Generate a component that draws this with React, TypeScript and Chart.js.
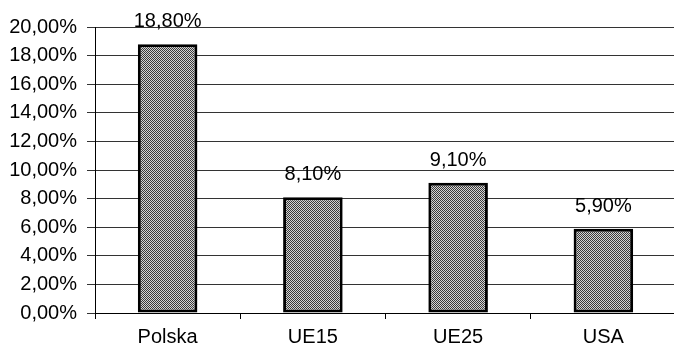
import React, { useEffect, useRef } from "react";
import { Chart, registerables } from "chart.js";

Chart.register(...registerables);

const categories = ["Polska", "UE15", "UE25", "USA"];
const values = [18.8, 8.1, 9.1, 5.9];
const yMin = 0;
const yMax = 20;
const yStep = 2;

const fmt = (v: number) => v.toFixed(2).replace(".", ",") + "%";

function makePattern(): CanvasPattern | string {
  const c = document.createElement("canvas");
  c.width = 2;
  c.height = 2;
  const ctx = c.getContext("2d");
  if (!ctx) return "#888";
  ctx.fillStyle = "#d4d4d4";
  ctx.fillRect(0, 0, 2, 2);
  ctx.fillStyle = "#3a3a3a";
  ctx.fillRect(0, 0, 1, 1);
  ctx.fillRect(1, 1, 1, 1);
  const p = ctx.createPattern(c, "repeat");
  return p || "#888";
}

const labelPlugin = {
  id: "valueLabels",
  afterDatasetsDraw(chart: any) {
    const ctx = chart.ctx;
    const meta = chart.getDatasetMeta(0);
    ctx.save();
    ctx.font = "20px 'Liberation Sans', Arial, sans-serif";
    ctx.fillStyle = "#000";
    ctx.textAlign = "center";
    ctx.textBaseline = "alphabetic";
    meta.data.forEach((el: any, i: number) => {
      ctx.fillText(fmt(values[i]), el.x, el.y - 17);
    });
    ctx.restore();
  },
};

export default function App() {
  const ref = useRef<HTMLCanvasElement>(null);
  useEffect(() => {
    if (!ref.current) return;
    const font = { family: "'Liberation Sans', Arial, sans-serif", size: 20 };
    const chart = new Chart(ref.current, {
      type: "bar",
      data: {
        labels: categories,
        datasets: [
          {
            data: values,
            backgroundColor: makePattern() as any,
            borderColor: "#000",
            borderWidth: 3,
            borderSkipped: false,
            categoryPercentage: 1,
            barPercentage: 0.41,
          },
        ],
      },
      options: {
        responsive: false,
        animation: false,
        layout: { padding: { top: 27, right: 0, left: 0, bottom: 0 } },
        plugins: {
          legend: { display: false },
          tooltip: { enabled: false },
        },
        scales: {
          x: {
            grid: {
              display: true,
              drawOnChartArea: false,
              drawTicks: true,
              tickLength: 6,
              color: "#000",
              offset: true,
            },
            border: { display: true, color: "#000", width: 1 },
            ticks: { color: "#000", font, padding: 6 },
            afterFit: (s: any) => {
              s.height = 32;
            },
          },
          y: {
            min: yMin,
            max: yMax,
            ticks: {
              stepSize: yStep,
              color: "#000",
              font,
              padding: 10,
              callback: (v: any) => fmt(Number(v)),
            },
            grid: {
              color: "#333",
              lineWidth: 1,
              tickLength: 8,
            },
            border: { display: true, color: "#000", width: 1 },
            afterFit: (s: any) => {
              s.width = 95;
            },
          },
        },
      },
      plugins: [labelPlugin],
    });
    return () => chart.destroy();
  }, []);
  return (
    <div style={{ position: "fixed", left: 0, top: 0, width: 674, height: 345, background: "#fff", overflow: "hidden" }}>
      <canvas ref={ref} width={676} height={345} style={{ display: "block" }} />
    </div>
  );
}
